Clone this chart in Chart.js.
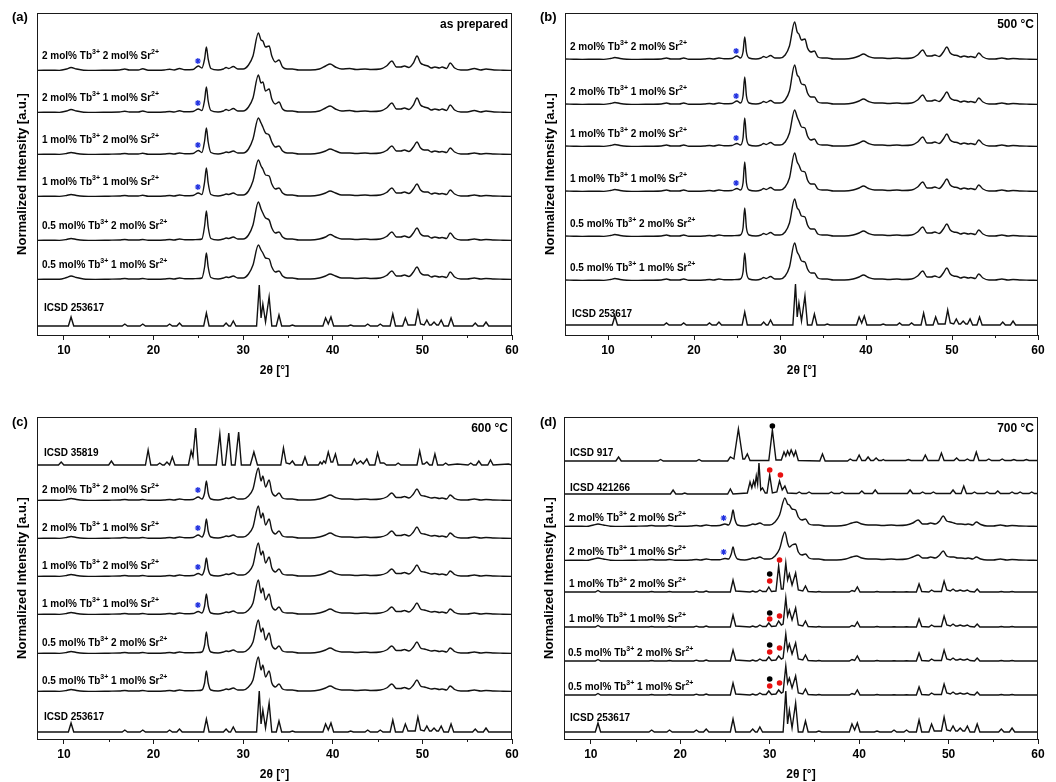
<!DOCTYPE html>
<html><head><meta charset="utf-8">
<script src="https://cdn.jsdelivr.net/npm/chart.js@4.4.0/dist/chart.umd.min.js"></script>
<style>
html,body{margin:0;padding:0;background:#fff;}
#wrap{position:relative;width:1056px;height:782px;overflow:hidden;background:#fff;}
canvas{position:absolute;}
</style></head><body><div id="wrap">
<canvas id="ca" width="528" height="391" style="left:0;top:0"></canvas>
<canvas id="cb" width="528" height="391" style="left:528px;top:0"></canvas>
<canvas id="cc" width="528" height="391" style="left:0;top:391px"></canvas>
<canvas id="cd" width="528" height="391" style="left:528px;top:391px"></canvas>
</div>
<script>
const FONT = "'Liberation Sans', Arial, Helvetica, sans-serif";

// ---------- x grids (2θ, degrees) ----------
const gridS = [5,6,7,8.5,9.5,10.3,10.8,11.4,12.2,13.5,15,16.2,16.8,17.3,18.3,18.8,19.4,20.5,21.2,21.8,22.3,22.9,23.5,24.4,25.0,25.4,25.7,25.9,26.1,26.4,27.2,27.8,28.1,28.4,28.9,29.4,30.0,30.6,31.1,31.7,32.0,32.2,32.5,32.9,33.2,33.6,34.0,34.4,34.9,35.5,36.2,37.5,38.5,39.2,39.7,40.3,41.0,41.9,42.6,43.6,44.3,45.3,46.0,46.6,47.1,47.6,48.0,48.5,49.0,49.4,49.8,50.2,50.6,51.0,51.4,51.9,52.2,52.7,53.1,53.6,54.3,55.0,55.8,56.5,57.1,58.0,59.0,60];
const gridH = [5,7,10.5,10.8,11.1,16.5,16.8,17.1,18.5,18.8,19.1,21.5,21.8,22.1,22.6,22.9,23.2,25.6,25.9,26.2,27.8,28.1,28.4,28.6,28.9,29.2,29.6,29.9,30.2,30.7,31.0,31.3,31.5,31.8,32.0,32.2,32.5,32.9,33.2,33.7,34.0,34.3,35.2,35.5,35.8,38.9,39.2,39.5,39.8,40.1,41.7,42.0,42.3,43.6,43.9,44.2,45.0,45.3,45.6,46.4,46.7,47.0,47.8,48.1,48.4,49.2,49.5,49.8,50.2,50.5,50.8,51.0,51.3,51.6,51.8,52.1,52.4,52.9,53.2,53.5,55.6,55.9,56.2,56.8,57.1,57.4,60];

// ---------- reference patterns ----------
const icsd253617 = [0,0, 0,9,0, 0,2,0, 0,2,0, 0,2,0, 0,3,0, 0,13,0, 0,3,0, 0,5,0, 0,0,0, 0,0,0, 0,41,8,22,4,29,0, 0,11,0, 0,1,0, 0,8,2,9,0, 0,1,0, 0,2,0, 0,2,0, 0,12,0, 0,8,1, 1,15,2, 1,6,1, 1,4,1, 1,6,0, 0,8,0, 0,3,0, 0,4,0, 0];

const x35819 = [5,9.4,9.7,10.0,15.0,15.3,15.6,19.1,19.4,19.7,20.4,20.7,21.0,21.2,21.5,21.8,22.1,22.4,23.9,24.2,24.4,24.7,25.0,27.0,27.4,27.7,28.0,28.4,28.7,29.1,29.5,29.8,30.8,31.2,31.6,34.2,34.5,34.8,35.2,35.5,35.8,36.6,36.9,37.2,38.4,38.6,38.8,39.0,39.2,39.5,39.8,40.0,40.3,40.6,42.1,42.4,42.7,43.1,43.4,43.8,44.1,44.7,45.0,45.3,45.7,46.0,47.0,47.3,47.6,49.4,49.7,50.0,50.2,50.5,50.8,51.1,51.4,51.7,52.3,52.6,52.9,53.9,55.1,55.4,55.7,56.0,56.3,56.6,57.3,57.6,57.9,59.6,60];
const icsd35819 = [0,0,3,0,0,4,0,0,15,0,0,2,0,0,3,0,8,0,0,14,8,37,0,0,31,0,0,32,0,0,33,0,0,13,0,0,17,2,1,4,0,0,8,0,0,3,1,4,2,13,3,3,11,0,0,6,1,4,1,6,0,0,12,2,2,0,0,2,0,0,14,1,1,3,0,0,11,0,0,2,0,1,0,2,0,0,4,0,0,5,0,1,0];

const x917 = [5,12.8,13.1,13.4,17.5,17.8,18.1,21.8,22.1,22.4,25.3,25.6,26.0,26.5,27.0,27.2,27.5,27.8,29.9,30.3,30.7,31.3,31.6,31.8,32.0,32.2,32.4,32.7,32.9,33.2,35.6,35.9,36.2,38.7,39.0,39.3,39.7,40.0,40.3,40.7,41.0,41.3,41.6,41.9,42.2,42.5,42.7,42.9,45.2,45.5,45.8,47.1,47.4,47.7,48.9,49.2,49.5,50.6,50.9,51.2,51.8,52.1,52.4,52.8,53.1,53.4,54.2,54.5,54.8,55.7,56.0,56.3,57.0,57.3,57.6,58.4,58.7,59.0,60];
const icsd917 = [0, 0,4,0, 0,1.5,0, 0,1.5,0, 0,4,2,32,2,2,7,0.5, 0.5,31,1, 1,9,5,10,6,11,5,10,0.5, 0,7,0, 0,2,0.5, 0.5,6,0.5, 0.5,4,0.5, 0.5,3,0.5, 0.5,1.5,0.5, 0.5,1.5,0.5, 0.5,6,0.5, 0.5,8,0.5, 0.5,3,0.5, 0.5,2,0.5, 0.5,9,0.5, 0.5,2,0.5, 0.5,2,0.5, 0.5,1.5,0.5, 0.5,1.5,0.5, 0.5];

const x421266 = [5,18.9,19.2,19.5,20.2,20.5,20.8,25.3,25.6,25.9,27.5,27.8,28.0,28.2,28.35,28.5,28.65,28.8,29.0,29.2,29.5,29.7,30.0,30.3,30.8,31.1,31.4,31.7,32.0,33.0,33.3,33.6,34.1,34.4,34.7,36.6,36.9,37.2,37.8,38.1,38.4,40.0,40.3,40.6,41.5,41.8,42.1,45.4,45.7,46.0,46.8,47.1,47.4,48.0,48.3,48.6,50.2,50.5,50.8,51.4,51.7,52.0,52.6,52.9,53.2,54.0,54.3,54.6,55.2,55.5,55.8,56.8,57.1,57.4,57.7,58.0,58.3,59.0,59.3,59.6,60];
const icsd421266 = [0, 0,4,0, 0,1,0, 0,5,0, 1,12,6,13,8,18,10,31,4,6,1,1,19,1,2,13,4,8,1, 0.5,2,0.5, 0.5,2,0.5, 0.5,2,0.5, 0.5,2,0.5, 0.5,3,0.5, 0.5,4,0.5, 0.5,4,0.5, 0.5,2,0.5, 0.5,2,0.5, 0.5,4,0.5, 0.5,8,0.5, 0.5,2,0.5, 0.5,2,0.5, 0.5,3,0.5, 0.5,2,0.5, 0.5,2,0.5, 0.5,2,0.5, 0.5];

// ---------- as prepared (on gridS) ----------
const prep_2Tb2Sr = [1,0.8,0.6,0.8,0.6,2,3.5,2,0.8,0.6, 0.8,1,2,1,1,2.2,0.8,0.7,1,1.8, 1,2.5,1.2,1.5,5,3,12,24,12,2.5, 1,2,3.5,2.5,4.5,2,2,6,15,38, 31,30,24,25,15,9,11,4,2,2, 1,1,2,5,7,4,2,2.5,1.5,2, 1.5,2,5,10,4,4,5,3.5,8,15, 8,6,5,3,4,3,4,2.5,8,3, 1,1,2.5,1,2,1,0.8,0.6];
const prep_2Tb1Sr = [1,0.8,0.6,0.8,0.6,2,3.5,2,0.8,0.6, 0.8,1,1.8,1,1,2,0.8,0.7,1,1.5, 1,2.2,1.2,1.5,4,2.5,13,26,12,2.5, 1,2,3.5,2.5,4.5,2,2,6,15,38, 30,31,22,24,14,9,11,4,2,2, 1,1,2,5,7,4,2,2.5,1.5,2, 1.5,2,5,10,4,4,5,3.5,8,15, 8,6,5,3,4,3,4,2.5,8,3, 1,1,2.5,1,2,1,0.8,0.6];
const prep_1Tb2Sr = [1,0.8,0.6,0.8,0.6,1.5,2.5,1.5,0.8,0.6, 0.8,1,1.5,1,1,1.8,0.8,0.7,1,1.5, 1,2,1.2,1.5,4.5,2.5,14,27,13,2.5, 1,2,3,2.5,4,2,2,6,16,37, 32,28,22,20,13,8,9,4,2,2, 1,1,2,4,6,4,2,2,1.5,2, 1.5,2,4.5,9,4,4,5,3.5,8,13, 7,5,5,3,4,3,3.5,2.5,7,3, 1,1,2,1,1.5,1,0.8,0.6];
const prep_1Tb1Sr = [1,0.8,0.6,0.8,0.6,1.5,2.5,1.5,0.8,0.6, 0.8,1,1.5,1,1,1.8,0.8,0.7,1,1.5, 1,2,1.2,1.5,4,2.5,15,29,14,2.5, 1,2,3,2.5,4,2,2,6,16,37, 31,28,22,21,13,8,9,4,2,2, 1,1,2,4,6,4,2,2,1.5,2, 1.5,2,4.5,9,4,4,5,3.5,8,13, 7,5,5,3,4,3,3.5,2.5,7,3, 1,1,2,1,1.5,1,0.8,0.6];
const prep_05Tb2Sr = [1,0.8,0.6,0.8,0.6,1.5,2.5,1.5,0.8,0.6, 0.8,1,1.5,1,1,1.5,0.8,0.7,1,1.5, 1,2,1.2,1.3,1.5,2,15,30,14,2.5, 1,2,3,2.5,4,2,2,6,16,39, 32,28,23,21,13,8,9,4,2,2, 1,1,2,4,6.5,4,2,2,1.5,2, 1.5,2,4.5,9,4,4,5,3.5,8,13, 7,5,5,3,4,3,3.5,2.5,8,3, 1,1,2,1,1.5,1,0.8,0.6];
const prep_05Tb1Sr = [1,0.8,0.6,0.8,0.8,2.5,4,2.5,1,0.6, 0.8,1,1.5,1,1,1.5,0.8,0.7,1,1.5, 1,2,1.2,1.3,1.5,2,13,27,13,2.5, 1,2,3,2.5,4,2,2,6,15,35, 30,27,22,21,13,8,9,4,2,2, 1,1,2,4,6,4,2,2,1.5,2, 1.5,2,4.5,9,4,4,5,3.5,8,13, 7,5,5,3,4,3,3.5,2.5,8,3, 1,1,2,1,1.5,1,0.8,0.6];

// ---------- 500 °C (on gridS) ----------
const t500_2Tb2Sr = [1,0.8,0.6,0.8,0.6,1.5,2.5,1.5,0.8,0.6, 0.8,1,2,1,1,2,0.8,0.7,1,1.5, 1,2,1.2,1.5,4,2,8,23,8,2, 1,2,3.5,2.5,4.5,2,2,5,14,38, 28,26,20,21,12,8,9,3,2,2, 1,1,2,4,6,3.5,2,2,1.5,2, 1.5,2,5,10,4,4,5,3.5,8,13, 7,5,4.5,3,4,3,3.5,2.5,7,3, 1,1,2,1,1.5,1,0.8,0.6];
const t500_2Tb1Sr = [1,0.8,0.6,0.8,0.6,1.5,2.5,1.5,0.8,0.6, 0.8,1,2,1,1,2,0.8,0.7,1,1.5, 1,2,1.2,1.5,4,2,9,28,9,2, 1,2,3.5,2.5,4.5,2,2,5,14,40, 30,28,21,20,12,8,8,3,2,2, 1,1,2,4,6,3.5,2,2,1.5,2, 1.5,2,5,10,4,4,5,3.5,8,13, 7,5,4.5,3,4,3,3.5,2.5,7,3, 1,1,2,1,1.5,1,0.8,0.6];
const t500_1Tb2Sr = [1,0.8,0.6,0.8,0.6,1.5,2.5,1.5,0.8,0.6, 0.8,1,2,1,1,2,0.8,0.7,1,1.5, 1,2,1.2,1.5,3.5,2,9,29,9,2, 1,2,3.5,2.5,4.5,2,2,5,14,37, 30,26,20,19,11,7,8,3,2,2, 1,1,2,4,6,3.5,2,2,1.5,2, 1.5,2,5,10,4,4,5,3.5,8,13, 7,5,4.5,3,4,3,3.5,2.5,7,3, 1,1,2,1,1.5,1,0.8,0.6];
const t500_1Tb1Sr = [1,0.8,0.6,0.8,0.6,1.5,2.5,1.5,0.8,0.6, 0.8,1,2,1,1,2,0.8,0.7,1,1.5, 1,2,1.2,1.5,3.5,2,9,30,9,2, 1,2,3.5,2.5,4.5,2,2,5,14,39, 30,27,21,20,12,8,8,3,2,2, 1,1,2,4,6,3.5,2,2,1.5,2, 1.5,2,5,10,4,4,5,3.5,8,13, 7,5,4.5,3,4,3,3.5,2.5,7,3, 1,1,2,1,1.5,1,0.8,0.6];
const t500_05Tb2Sr = [1,0.8,0.6,0.8,0.6,1.5,2.5,1.5,0.8,0.6, 0.8,1,2,1,1,2,0.8,0.7,1,1.5, 1,2,1.2,1.3,1.5,2,9,29,9,2, 1,2,3.5,2.5,4.5,2,2,5,14,38, 29,27,21,20,12,8,8,3,2,2, 1,1,2,4,6,3.5,2,2,1.5,2, 1.5,2,5,10,4,4,5,3.5,8,13, 7,5,4.5,3,4,3,3.5,2.5,7,3, 1,1,2,1,1.5,1,0.8,0.6];
const t500_05Tb1Sr = [1,0.8,0.6,0.8,0.6,1.5,2.5,1.5,0.8,0.6, 0.8,1,2,1,1,2,0.8,0.7,1,1.5, 1,2,1.2,1.3,1.5,2,9,28,9,2, 1,2,3.5,2.5,4.5,2,2,5,14,38, 29,26,20,19,12,8,8,3,2,2, 1,1,2,4,6,3.5,2,2,1.5,2, 1.5,2,5,10,4,4,5,3.5,8,13, 7,5,4.5,3,4,3,3.5,2.5,7,3, 1,1,2,1,1.5,1,0.8,0.6];

// ---------- 600 °C (on gridS) ----------
const t600_2Tb2Sr = [1,0.8,0.6,0.8,0.6,1.5,2.5,1.5,0.8,0.6, 0.8,1,1.5,1,1,1.5,0.8,0.7,1,1.5, 1,2,1.2,1.5,4,2,8,20,8,2, 1,2,3,2.5,4,2,2,5,12,33, 20,25,14,21,9,5,8,3,2,2, 1,1,2,4,6,3.5,2,2,1.5,2, 1.5,2,4,8,3.5,3.5,4.5,3,7,12, 6,5,4,3,3.5,2.5,3,2,6,2.5, 1,1,2,1,1.5,1,0.8,0.6];
const t600_2Tb1Sr = [1,0.8,0.6,0.8,0.6,1.5,2.5,1.5,0.8,0.6, 0.8,1,1.5,1,1,1.5,0.8,0.7,1,1.5, 1,2,1.2,1.5,4,2,8,20,8,2, 1,2,3,2.5,4,2,2,5,12,33, 21,26,14,20,9,5,8,3,2,2, 1,1,2,4,6,3.5,2,2,1.5,2, 1.5,2,4,8,3.5,3.5,4.5,3,7,12, 6,5,4,3,3.5,2.5,3,2,6,2.5, 1,1,2,1,1.5,1,0.8,0.6];
const t600_1Tb2Sr = [1,0.8,0.6,0.8,0.6,1.5,2.5,1.5,0.8,0.6, 0.8,1,1.5,1,1,1.5,0.8,0.7,1,1.5, 1,2,1.2,1.5,3.5,2,8,19,8,2, 1,2,3,2.5,4,2,2,5,12,34, 22,26,14,20,9,5,8,3,2,2, 1,1,2,4,6,3.5,2,2,1.5,2, 1.5,2,4,8,3.5,3.5,4.5,3,7,12, 6,5,4,3,3.5,2.5,3,2,6,2.5, 1,1,2,1,1.5,1,0.8,0.6];
const t600_1Tb1Sr = [1,0.8,0.6,0.8,0.6,1.5,2.5,1.5,0.8,0.6, 0.8,1,1.5,1,1,1.5,0.8,0.7,1,1.5, 1,2,1.2,1.5,3.5,2,9,21,9,2, 1,2,3,2.5,4,2,2,5,12,35, 22,27,15,21,9,5,8,3,2,2, 1,1,2,4,6,3.5,2,2,1.5,2, 1.5,2,4,8,3.5,3.5,4.5,3,7,12, 6,5,4,3,3.5,2.5,3,2,6,2.5, 1,1,2,1,1.5,1,0.8,0.6];
const t600_05Tb2Sr = [1,0.8,0.6,0.8,0.6,1.5,2.5,1.5,0.8,0.6, 0.8,1,1.5,1,1,1.5,0.8,0.7,1,1.5, 1,2,1.2,1.3,1.5,2,9,22,9,2, 1,2,3,2.5,4,2,2,5,12,34, 22,26,14,21,9,5,8,3,2,2, 1,1,2,4,6,3.5,2,2,1.5,2, 1.5,2,4,8,3.5,3.5,4.5,3,7,12, 6,5,4,3,3.5,2.5,3,2,6,2.5, 1,1,2,1,1.5,1,0.8,0.6];
const t600_05Tb1Sr = [1,0.8,0.6,0.8,0.6,1.5,2.5,1.5,0.8,0.6, 0.8,1,1.5,1,1,1.5,0.8,0.7,1,1.5, 1,2,1.2,1.3,1.5,2,9,21,9,2, 1,2,3,2.5,4,2,2,5,12,35, 22,27,15,21,9,5,8,3,2,2, 1,1,2,4,6,3.5,2,2,1.5,2, 1.5,2,4,8,3.5,3.5,4.5,3,7,12, 6,5,4,3,3.5,2.5,3,2,6,2.5, 1,1,2,1,1.5,1,0.8,0.6];

// ---------- 700 °C ----------
const t700_2Tb2Sr = [1,0.8,0.6,0.8,0.6,2,3,2,0.8,0.6, 0.8,1,1.5,1,1,1.5,0.8,0.7,1,1.5, 1,2,1.2,1.5,3,2,8,17,8,2, 1,2,3,2.5,4,2,2,5,12,29, 23,22,18,17,10,7,8,3,2,2, 1,1,2,4,5,3,2,2,1.5,2, 1.5,2,4,7,3,3,4,3,6,11, 6,5,4,3,3,2.5,3,2,5,2.5, 1,1,2,1,1.5,1,0.8,0.6];
const t700_2Tb1Sr = [1,0.8,0.6,0.8,0.6,2,3,2,0.8,0.6, 0.8,1,1.5,1,1,1.5,0.8,0.7,1,1.5, 1,2,1.2,1.3,2.5,2,7,14,7,2, 1,2,3,2.5,4,2,2,5,12,29, 18,14,16,17,9,6,7,3,2,2, 1,1,2,4,5,3,2,2,1.5,2, 1.5,2,4,6,3,3,4,3,6,10, 5,4,4,3,3,2.5,3,2,4,2, 1,1,2,1,1.5,1,0.8,0.6];
const t700_1Tb2Sr = [1,1, 1,2.5,1, 1,1.5,1, 1,1.5,1, 1,1.8,1, 1,2,1, 1,13,2, 1,2,1, 1.2,3,1.5, 1.5,6,1.5, 2,27,4, 4,30,13,19,8,20,3, 2,7,1.5, 1,1.5,1, 1,2.5,1.5,6,1, 1,1.5,1, 1,1.2,1, 1,1.2,1, 1,9,1.5, 1,3,1.5, 1.5,12,3, 2,4,2, 2,3,2, 2,3,1.5, 1,4,1, 1,1.5,1, 1,1.5,1, 1];
const t700_1Tb1Sr = [1,1, 1,2.5,1, 1,1.5,1, 1,1.5,1, 1,1.8,1, 1,2,1, 1,13,2, 1,2,1, 1.2,3,1.5, 1.5,5,1.5, 2,7,3, 4,30,12,18,8,20,3, 2,7,1.5, 1,1.5,1, 1,2.5,1.5,6,1, 1,1.5,1, 1,1.2,1, 1,1.2,1, 1,9,1.5, 1,3,1.5, 1.5,12,3, 2,4,2, 2,3,2, 2,3,1.5, 1,4,1, 1,1.5,1, 1,1.5,1, 1];
const t700_05Tb2Sr = [1,1, 1,2.5,1, 1,1.5,1, 1,1.5,1, 1,1.8,1, 1,2,1, 1,12,2, 1,2,1, 1.2,3,1.5, 1.5,5,1.5, 2,6,3, 4,28,12,18,8,19,3, 2,7,1.5, 1,1.5,1, 1,2.5,1.5,6,1, 1,1.5,1, 1,1.2,1, 1,1.2,1, 1,9,1.5, 1,3,1.5, 1.5,12,3, 2,4,2, 2,3,2, 2,3,1.5, 1,4,1, 1,1.5,1, 1,1.5,1, 1];
const t700_05Tb1Sr = [1,1, 1,2.5,1, 1,1.5,1, 1,1.5,1, 1,1.8,1, 1,2,1, 1,13,2, 1,2,1, 1.2,3,1.5, 1.5,5,1.5, 2,6,3, 4,30,13,18,8,20,3, 2,7,1.5, 1,1.5,1, 1,2.5,1.5,6,1, 1,1.5,1, 1,1.2,1, 1,1.2,1, 1,9,1.5, 1,3,1.5, 1.5,12,3, 2,4,2, 2,3,2, 2,3,1.5, 1,4,1, 1,1.5,1, 1,1.5,1, 1];

// ---------- text ----------
const sampleLabels = ["2 mol% Tb³⁺ 2 mol% Sr²⁺","2 mol% Tb³⁺ 1 mol% Sr²⁺","1 mol% Tb³⁺ 2 mol% Sr²⁺","1 mol% Tb³⁺ 1 mol% Sr²⁺","0.5 mol% Tb³⁺ 2 mol% Sr²⁺","0.5 mol% Tb³⁺ 1 mol% Sr²⁺"];
const xTickValues = [10,20,30,40,50,60];
const xMinorValues = [15,25,35,45,55];
const xTitle = "2θ [°]";
const yTitle = "Normalized Intensity [a.u.]";

// ---------- markers: [2θ, row, height above row baseline] ----------
const starsA = [[24.95,0,10],[24.95,1,10],[24.95,2,10],[24.95,3,10]];
const starsB = [[24.9,0,9],[24.9,1,9],[24.9,2,9],[24.9,3,9]];
const starsC = [[24.95,1,11],[24.95,2,11],[24.95,3,10],[24.95,4,10]];
const starsD = [[24.85,2,9],[24.85,3,9]];
const blackDotsD = [[30.3,0,35],[30.0,4,19],[30.0,5,15],[30.0,6,17],[30.0,7,17]];
const redDotsD = [[30.0,1,24],[31.2,1,19],[30.0,4,12],[31.1,4,33],[30.0,5,9],[31.1,5,12],[30.0,6,10],[31.1,6,14],[30.0,7,10],[31.1,7,13]];

// ---------- layout (stack offsets, px-units) ----------
const panels = [
 {canvas:'ca', tag:'(a)', temp:'as prepared', xMin:7, tagY:17,
  pad:{left:13,top:13,right:16,bottom:13},
  rows:[
   {x:gridS,y:prep_2Tb2Sr,off:264,smooth:true,label:sampleLabels[0],dy:15,dx:5},
   {x:gridS,y:prep_2Tb1Sr,off:222,smooth:true,label:sampleLabels[1],dy:15,dx:5},
   {x:gridS,y:prep_1Tb2Sr,off:180,smooth:true,label:sampleLabels[2],dy:15,dx:5},
   {x:gridS,y:prep_1Tb1Sr,off:138,smooth:true,label:sampleLabels[3],dy:15,dx:5},
   {x:gridS,y:prep_05Tb2Sr,off:94,smooth:true,label:sampleLabels[4],dy:15,dx:5},
   {x:gridS,y:prep_05Tb1Sr,off:55,smooth:true,label:sampleLabels[5],dy:15,dx:5},
   {x:gridH,y:icsd253617,off:9,smooth:false,label:'ICSD 253617',dy:18,dx:7}],
  stars:starsA, black:[], red:[]},
 {canvas:'cb', tag:'(b)', temp:'500 °C', xMin:5, tagY:17,
  pad:{left:13,top:13,right:18,bottom:13},
  rows:[
   {x:gridS,y:t500_2Tb2Sr,off:275,smooth:true,label:sampleLabels[0],dy:13,dx:5},
   {x:gridS,y:t500_2Tb1Sr,off:230,smooth:true,label:sampleLabels[1],dy:13,dx:5},
   {x:gridS,y:t500_1Tb2Sr,off:188,smooth:true,label:sampleLabels[2],dy:13,dx:5},
   {x:gridS,y:t500_1Tb1Sr,off:143,smooth:true,label:sampleLabels[3],dy:13,dx:5},
   {x:gridS,y:t500_05Tb2Sr,off:98,smooth:true,label:sampleLabels[4],dy:13,dx:5},
   {x:gridS,y:t500_05Tb1Sr,off:54,smooth:true,label:sampleLabels[5],dy:13,dx:5},
   {x:gridH,y:icsd253617,off:10,smooth:false,label:'ICSD 253617',dy:11,dx:7}],
  stars:starsB, black:[], red:[]},
 {canvas:'cc', tag:'(c)', temp:'600 °C', xMin:7, tagY:31,
  pad:{left:13,top:26,right:16,bottom:0},
  rows:[
   {x:x35819,y:icsd35819,off:274,smooth:false,label:'ICSD 35819',dy:12,dx:7},
   {x:gridS,y:t600_2Tb2Sr,off:238,smooth:true,label:sampleLabels[0],dy:11,dx:5},
   {x:gridS,y:t600_2Tb1Sr,off:200,smooth:true,label:sampleLabels[1],dy:11,dx:5},
   {x:gridS,y:t600_1Tb2Sr,off:162,smooth:true,label:sampleLabels[2],dy:11,dx:5},
   {x:gridS,y:t600_1Tb1Sr,off:124,smooth:true,label:sampleLabels[3],dy:11,dx:5},
   {x:gridS,y:t600_05Tb2Sr,off:85,smooth:true,label:sampleLabels[4],dy:11,dx:5},
   {x:gridS,y:t600_05Tb1Sr,off:47,smooth:true,label:sampleLabels[5],dy:11,dx:5},
   {x:gridH,y:icsd253617,off:7,smooth:false,label:'ICSD 253617',dy:15,dx:7}],
  stars:starsC, black:[], red:[]},
 {canvas:'cd', tag:'(d)', temp:'700 °C', xMin:7, tagY:31,
  pad:{left:12,top:26,right:18,bottom:0},
  rows:[
   {x:x917,y:icsd917,off:278,smooth:false,label:'ICSD 917',dy:8,dx:6},
   {x:x421266,y:icsd421266,off:245,smooth:false,label:'ICSD 421266',dy:6,dx:6},
   {x:gridS,y:t700_2Tb2Sr,off:212,smooth:true,label:sampleLabels[0],dy:9,dx:5},
   {x:gridS,y:t700_2Tb1Sr,off:178,smooth:true,label:sampleLabels[1],dy:9,dx:5},
   {x:gridH,y:t700_1Tb2Sr,off:146,smooth:false,label:sampleLabels[2],dy:9,dx:5},
   {x:gridH,y:t700_1Tb1Sr,off:111,smooth:false,label:sampleLabels[3],dy:9,dx:5},
   {x:gridH,y:t700_05Tb2Sr,off:77,smooth:false,label:sampleLabels[4],dy:9,dx:4},
   {x:gridH,y:t700_05Tb1Sr,off:43,smooth:false,label:sampleLabels[5],dy:9,dx:4},
   {x:gridH,y:icsd253617,off:7,smooth:false,label:'ICSD 253617',dy:14,dx:6}],
  stars:starsD, black:blackDotsD, red:redDotsD}
];

const SUP = {'⁰':'0','¹':'1','²':'2','³':'3','⁴':'4','⁵':'5','⁶':'6','⁷':'7','⁸':'8','⁹':'9','⁺':'+','⁻':'-'};
function drawRich(ctx, text, x, y) {
  const runs = [];
  for (const ch of text) {
    const s = ch in SUP; const c = s ? SUP[ch] : ch;
    if (runs.length && runs[runs.length-1].s === s) runs[runs.length-1].t += c; else runs.push({s, t:c});
  }
  ctx.textAlign = 'left'; ctx.textBaseline = 'middle';
  for (const r of runs) {
    ctx.font = 'bold ' + (r.s ? 7 : 10) + 'px ' + FONT;
    ctx.fillText(r.t, x, r.s ? y - 4 : y);
    x += ctx.measureText(r.t).width;
  }
}

const decor = {
  id: 'decor',
  afterDraw(chart) {
    const P = chart.config.options.plugins.decor;
    const {ctx, chartArea: a, scales: {x, y}} = chart;
    ctx.save();
    ctx.strokeStyle = '#1a1a1a'; ctx.lineWidth = 1;
    ctx.strokeRect(Math.round(a.left) + 0.5, Math.round(a.top) + 0.5, Math.round(a.right - a.left) - 1, Math.round(a.bottom - a.top));
    xMinorValues.forEach(v => {
      const px = Math.round(x.getPixelForValue(v)) + 0.5;
      ctx.beginPath(); ctx.moveTo(px, a.bottom); ctx.lineTo(px, a.bottom + 3); ctx.stroke();
    });
    ctx.fillStyle = '#000';
    ctx.font = 'bold 13px ' + FONT; ctx.textBaseline = 'middle'; ctx.textAlign = 'left';
    ctx.fillText(P.tag, 12, P.tagY);
    ctx.font = 'bold 12px ' + FONT; ctx.textAlign = 'right';
    ctx.fillText(P.temp, a.right - 4, a.top + 12);
    P.rows.forEach(r => drawRich(ctx, r.label, a.left + r.dx, y.getPixelForValue(r.off) - r.dy));
    ctx.restore();
  }
};

function build(p) {
  const datasets = p.rows.map(r => ({
    type: 'line',
    data: r.x.map((t, i) => ({x: t, y: r.y[i] + r.off})),
    borderColor: '#111', borderWidth: 1.4, pointRadius: 0, fill: false,
    cubicInterpolationMode: r.smooth ? 'monotone' : 'default', tension: 0, order: 2
  }));
  const mk = (arr) => arr.map(m => ({x: m[0], y: p.rows[m[1]].off + m[2]}));
  if (p.stars.length) datasets.push({type:'scatter', data: mk(p.stars), pointStyle:'star', pointRadius:3, borderColor:'#2030e0', backgroundColor:'#2030e0', borderWidth:1.2, order:0});
  if (p.black.length) datasets.push({type:'scatter', data: mk(p.black), pointStyle:'circle', pointRadius:2.8, borderWidth:0, backgroundColor:'#000', borderColor:'#000', order:0});
  if (p.red.length) datasets.push({type:'scatter', data: mk(p.red), pointStyle:'circle', pointRadius:2.8, borderWidth:0, backgroundColor:'#e81010', borderColor:'#e81010', order:0});

  new Chart(document.getElementById(p.canvas), {
    type: 'line',
    data: {datasets},
    options: {
      responsive: false, animation: false, events: [],
      layout: {padding: p.pad},
      plugins: {legend:{display:false}, tooltip:{enabled:false}, decor: p},
      scales: {
        x: {
          type: 'linear', min: p.xMin, max: 60,
          afterBuildTicks: s => { s.ticks = xTickValues.map(v => ({value: v})); },
          afterFit: s => { s.height = 43; },
          ticks: {color:'#000', font:{family:FONT, weight:'bold', size:12}, padding:3, maxRotation:0, autoSkip:false},
          grid: {display:true, drawOnChartArea:false, drawTicks:true, tickLength:5, color:'#1a1a1a'},
          border: {display:false},
          title: {display:true, text:xTitle, color:'#000', font:{family:FONT, weight:'bold', size:12}, padding:{top:0,bottom:0}}
        },
        y: {
          min: 0, max: 322,
          afterFit: s => { s.width = 24; },
          ticks: {display:false}, grid: {display:false}, border: {display:false},
          title: {display:true, text:yTitle, color:'#000', font:{family:FONT, weight:'bold', size:13}, padding:{top:2,bottom:0}}
        }
      }
    },
    plugins: [decor]
  });
}
panels.forEach(build);
</script></body></html>
